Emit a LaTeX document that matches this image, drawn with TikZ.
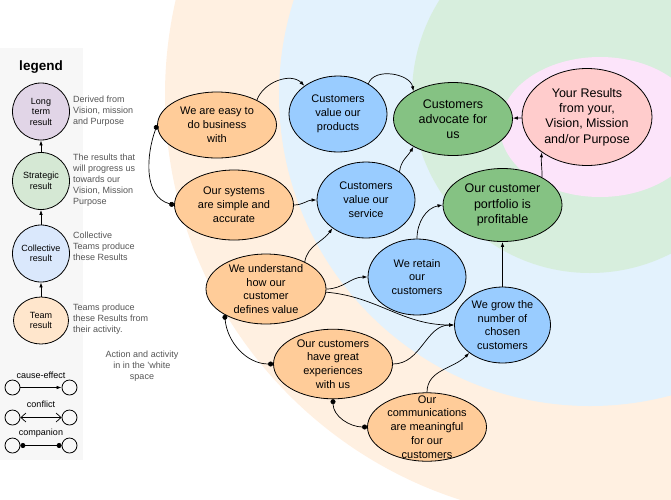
\documentclass[tikz,border=0pt]{standalone}
\usepackage{fontspec}
\setmainfont{Liberation Sans}
\usetikzlibrary{shapes.geometric,arrows.meta}
\definecolor{bgpeach}{HTML}{FFF0E1}
\definecolor{bgblue}{HTML}{E3F2FD}
\definecolor{bggreen}{HTML}{D7EEDD}
\definecolor{bgpink}{HTML}{FCE4FA}
\definecolor{teamc}{HTML}{FFCC99}
\definecolor{collc}{HTML}{99CCFF}
\definecolor{stratc}{HTML}{85C283}
\definecolor{longc}{HTML}{FFCCCC}
\definecolor{legbg}{HTML}{F7F7F7}
\definecolor{legteam}{HTML}{FFE6CC}
\definecolor{legcoll}{HTML}{DAE8FC}
\definecolor{legstrat}{HTML}{D5E8D4}
\definecolor{leglong}{HTML}{E1D5E7}
\definecolor{greytext}{HTML}{555555}
\begin{document}
\begin{tikzpicture}[x=1pt, y=1pt,
    main/.style = {draw, ellipse, line width=0.8pt, inner sep=0pt, align=center},
    team/.style = {main, fill=teamc, minimum width=119pt, minimum height=66pt, font=\fontsize{11}{13.8}\selectfont},
    coll/.style = {main, fill=collc, minimum width=98pt, minimum height=76pt, font=\fontsize{11}{13.8}\selectfont},
    strat/.style = {main, fill=stratc, minimum width=119pt, minimum height=73pt, font=\fontsize{12.5}{15.3}\selectfont},
    long/.style = {main, fill=longc, minimum width=130pt, minimum height=97pt, font=\fontsize{12.5}{15.3}\selectfont},
    leg/.style = {draw, ellipse, line width=0.8pt, minimum width=57pt, minimum height=57pt, inner sep=0pt, align=center, font=\fontsize{9}{10.5}\selectfont},
    note/.style = {text=greytext, inner sep=0pt, anchor=west, align=left, font=\fontsize{9}{11}\selectfont},
    dotc/.style = {draw, circle, line width=0.8pt, minimum size=15pt, inner sep=0pt},
    cause/.style = {line width=0.7pt, -{Latex[length=5pt,width=3.5pt]}},
    comp/.style = {line width=0.7pt, {Circle[length=5pt]}-{Circle[length=5pt]}},
    conf/.style = {line width=0.7pt, {Straight Barb[length=5pt,width=9pt]}-{Straight Barb[length=5pt,width=9pt]}}]
    \fill[white] (0,0) rectangle (671,-499);
    \useasboundingbox (0,0) rectangle (671,-499);
    \begin{scope}
        \clip (0,0) rectangle (671,-499);
        \fill[bgpeach] (590,-95) circle (425pt);
        \fill[bgblue] (590,-95) circle (311pt);
        \fill[bggreen] (590,-95) circle (178pt);
        \fill[bgpink] (600,-127) ellipse [x radius=100pt, y radius=70pt];
    \end{scope}
    \fill[legbg] (0,-48) rectangle (83,-460);

    \node[font=\bfseries\fontsize{13.5}{16}\selectfont] (legend) at (41,-67) {legend};
    \node[leg, fill=leglong] (l1) at (41,-111.5) {Long\\term\\result};
    \node[leg, fill=legstrat] (l2) at (41,-181) {Strategic\\result};
    \node[leg, fill=legcoll] (l3) at (41,-253.5) {Collective\\result};
    \node[leg, fill=legteam, minimum width=55pt, minimum height=47pt] (l4) at (41,-320.5) {Team\\result};
    \draw[cause] (l2) -- (l1);
    \draw[cause] (l3) -- (l2);
    \draw[cause] (l4) -- (l3);
    \node[note] (n1) at (73,-111) {Derived from\\Vision, mission\\and Purpose};
    \node[note] (n2) at (73,-180) {The results that\\will progress us\\towards our\\Vision, Mission\\Purpose};
    \node[note] (n3) at (73,-246) {Collective\\Teams produce\\these Results};
    \node[note] (n4) at (73,-319) {Teams produce\\these Results from\\their activity.};
    \node[note, anchor=center, align=center] (act) at (142,-366) {Action and activity\\in in the 'white\\space};

    \node[font=\fontsize{9}{11}\selectfont] (ce) at (41,-375) {cause-effect};
    \node[dotc] (c1a) at (12.5,-387.5) {};
    \node[dotc] (c1b) at (69.5,-387.5) {};
    \draw[cause] (c1a) -- (c1b);
    \node[font=\fontsize{9}{11}\selectfont] (cf) at (41,-404) {conflict};
    \node[dotc] (c2a) at (12.5,-417.5) {};
    \node[dotc] (c2b) at (69.5,-417.5) {};
    \draw[conf] (c2a) -- (c2b);
    \node[font=\fontsize{9}{11}\selectfont] (cp) at (41,-433) {companion};
    \node[dotc] (c3a) at (12.5,-445.5) {};
    \node[dotc] (c3b) at (69.5,-445.5) {};
    \draw[comp] (c3a) -- (c3b);

    \node[team] (1) at (217,-125) {We are easy to\\do business\\with};
    \node[team, minimum height=70pt] (2) at (234,-205) {Our systems\\are simple and\\accurate};
    \node[coll] (3) at (338,-114) {Customers\\value our\\products};
    \node[coll] (4) at (366,-200) {Customers\\value our\\service};
    \node[strat] (5) at (453,-119) {Customers\\advocate for\\us};
    \node[long] (6) at (587,-117) {Your Results\\from your,\\Vision, Mission\\and/or Purpose};
    \node[strat] (7) at (502.5,-205) {Our customer\\portfolio is\\profitable};
    \node[team, minimum width=120pt] (8) at (266,-289) {We understand\\how our\\customer\\defines value};
    \node[coll] (9) at (417,-277) {We retain\\our\\customers};
    \node[coll, minimum width=96pt] (10) at (502.5,-325) {We grow the\\number of\\chosen\\customers};
    \node[team] (11) at (333,-364) {Our customers\\have great\\experiences\\with us};
    \node[team, inner ysep=-7.3pt] (12) at (427,-427) {Our\\communications\\are meaningful\\for our\\customers};

    \draw[comp] (1.west) to[out=250,in=165] (2.west);
    \draw[cause] (1.32) to[out=70,in=135] (3.140);
    \draw[cause] (3.45) to[out=70,in=100] (5.145);
    \draw[cause] (2.east) to[out=0,in=180] (4.west);
    \draw[cause] (4.40) to[out=85,in=240] (5.215);
    \draw[cause] (6) -- (5);
    \draw[cause] (7.35) to[out=90,in=265] (6.218);
    \draw[cause] (9.north) to[out=90,in=190] (7.west);
    \draw[cause] (10) -- (7);
    \draw[cause] (8.35) to[out=80,in=235] (4.220);
    \draw[cause] (8.east) to[out=0,in=180] (9.west);
    \draw[cause] (8.-3) to[out=-5,in=180] (10.west);
    \draw[comp] (8.212) to[out=275,in=180] (11.west);
    \draw[cause] (11.east) to[out=0,in=180] (10.west);
    \draw[comp] (11.south) to[out=270,in=180] (12.west);
    \draw[cause] (12.north) to[out=90,in=225] (10.220);
\end{tikzpicture}
\end{document}
